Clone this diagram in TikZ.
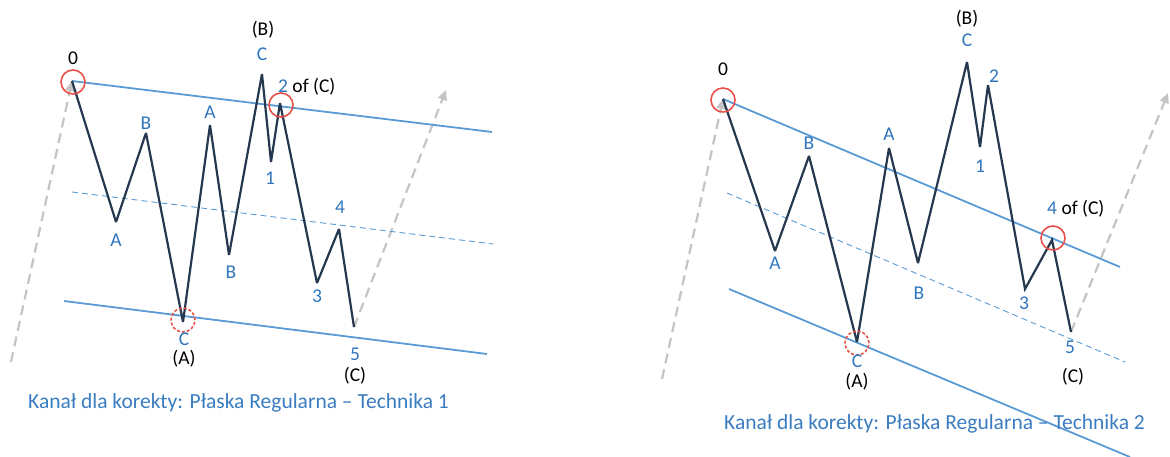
\documentclass[tikz,border=0pt]{standalone}
\usepackage{fontspec}
\setmainfont{Carlito}
\usetikzlibrary{arrows.meta}

\definecolor{wavenavy}{RGB}{37,56,80}
\definecolor{chanblue}{RGB}{91,155,213}
\definecolor{lblblue}{RGB}{46,117,190}
\definecolor{capblue}{RGB}{58,124,192}
\definecolor{ringred}{RGB}{232,80,74}
\definecolor{guidegray}{RGB}{196,196,196}

\tikzset{
  wave/.style={draw=wavenavy,line width=2.2pt,miter limit=3},
  chan/.style={draw=chanblue,line width=1.8pt},
  midline/.style={draw=chanblue,line width=0.9pt,dash pattern=on 6pt off 4pt},
  guide/.style={draw=guidegray,line width=2.2pt,dash pattern=on 10pt off 6pt,-{Triangle[length=10pt,width=9pt]}},
  ring/.style={draw=ringred,line width=1.6pt,circle,minimum size=24pt,inner sep=0pt},
  ringdash/.style={ring,dash pattern=on 3pt off 2pt},
  wlbl/.style={text=lblblue,font=\fontsize{19.5}{19.5}\selectfont,inner sep=0pt},
  blbl/.style={text=black,font=\fontsize{19.5}{19.5}\selectfont,inner sep=0pt},
  caption/.style={text=capblue,font=\fontsize{21.5}{21.5}\selectfont,inner sep=0pt,anchor=west},
}

\begin{document}
\begin{tikzpicture}[x=1pt,y=-1pt]
  \useasboundingbox (0,0) rectangle (1170,457);

  % left: Technika 1
  \coordinate (L0) at (72,81);
  \coordinate (La) at (116,222);
  \coordinate (Lb) at (146,133);
  \coordinate (Lc) at (183,322);
  \coordinate (LA) at (210,125);
  \coordinate (LB) at (229,255);
  \coordinate (LC) at (262,74);
  \coordinate (L1) at (271,162);
  \coordinate (L2) at (280,103);
  \coordinate (L3) at (317,283);
  \coordinate (L4) at (339,229);
  \coordinate (L5) at (354,327);
  \coordinate (Lgs) at (11,362);
  \coordinate (Lge) at (446,90);
  \coordinate (Lue) at (492,132);
  \coordinate (Lls) at (64,301);
  \coordinate (Lle) at (487,354);
  \coordinate (Lms) at (72,192);
  \coordinate (Lme) at (493,244);

  \draw[guide] (Lgs)--(L0);
  \draw[guide] (L5)--(Lge);
  \draw[chan] (L0)--(Lue);
  \draw[chan] (Lls)--(Lle);
  \draw[midline] (Lms)--(Lme);
  \draw[wave] (L0)--(La)--(Lb)--(Lc)--(LA)--(LB)--(LC)--(L1)--(L2)--(L3)--(L4)--(L5);
  \node[ring] (L0ring) at (73,82) {};
  \node[ring] (L2ring) at (281,105) {};
  \node[ringdash] (Lcring) at (183,320) {};

  \node[blbl] (L0lbl) at (73,58) {0};
  \node[wlbl] (Lalbl) at (116,240) {A};
  \node[wlbl] (Lblbl) at (146,123) {B};
  \node[wlbl] (Lclbl) at (184,339) {C};
  \node[blbl] (LAwave) at (184,359) {(A)};
  \node[wlbl] (LAlbl) at (210,112) {A};
  \node[wlbl] (LBlbl) at (231,272) {B};
  \node[wlbl] (LClbl) at (262,54) {C};
  \node[blbl] (LBwave) at (263,30) {(B)};
  \node[wlbl] (L1lbl) at (270,178) {1};
  \node[blbl,anchor=west] (L2lbl) at (278,87) {\textcolor{lblblue}{2} of (C)};
  \node[wlbl] (L3lbl) at (317,296) {3};
  \node[wlbl] (L4lbl) at (340,207) {4};
  \node[wlbl] (L5lbl) at (355,354) {5};
  \node[blbl] (LCwave) at (355,376) {(C)};
  \node[caption] (Lcap) at (28,403) {Kanał dla korekty: Płaska Regularna – Technika 1};

  % right: Technika 2
  \coordinate (R0) at (723,99);
  \coordinate (Ra) at (775,251);
  \coordinate (Rb) at (809,156);
  \coordinate (Rc) at (857,342);
  \coordinate (RA) at (889,148);
  \coordinate (RB) at (918,263);
  \coordinate (RC) at (967,62);
  \coordinate (R1) at (980,147);
  \coordinate (R2) at (988,85);
  \coordinate (R3) at (1025,289);
  \coordinate (R4) at (1052,240);
  \coordinate (R5) at (1071,332);
  \coordinate (Rgs) at (662,379);
  \coordinate (Rge) at (1168,93);
  \coordinate (Rue) at (1120,267);
  \coordinate (Rls) at (729,289);
  \coordinate (Rle) at (1130,457);
  \coordinate (Rms) at (727,193);
  \coordinate (Rme) at (1125,362);

  \draw[guide] (Rgs)--(R0);
  \draw[guide] (R5)--(Rge);
  \draw[chan] (R0)--(Rue);
  \draw[chan] (Rls)--(Rle);
  \draw[midline] (Rms)--(Rme);
  \draw[wave] (R0)--(Ra)--(Rb)--(Rc)--(RA)--(RB)--(RC)--(R1)--(R2)--(R3)--(R4)--(R5);
  \node[ring] (R0ring) at (723,100) {};
  \node[ring] (R4ring) at (1053,238) {};
  \node[ringdash] (Rcring) at (857,343) {};

  \node[blbl] (R0lbl) at (723,69) {0};
  \node[wlbl] (Ralbl) at (775,263) {A};
  \node[wlbl] (Rblbl) at (809,143) {B};
  \node[wlbl] (Rclbl) at (857,361) {C};
  \node[blbl] (RAwave) at (857,382) {(A)};
  \node[wlbl] (RAlbl) at (889,134) {A};
  \node[wlbl] (RBlbl) at (919,293) {B};
  \node[wlbl] (RClbl) at (967,40) {C};
  \node[blbl] (RBwave) at (967,19) {(B)};
  \node[wlbl] (R1lbl) at (980,166) {1};
  \node[wlbl] (R2lbl) at (994,76) {2};
  \node[wlbl] (R3lbl) at (1024,303) {3};
  \node[blbl,anchor=west] (R4lbl) at (1047,209) {\textcolor{lblblue}{4} of (C)};
  \node[wlbl] (R5lbl) at (1070,347) {5};
  \node[blbl] (RCwave) at (1073,377) {(C)};
  \node[caption] (Rcap) at (724,424) {Kanał dla korekty: Płaska Regularna – Technika 2};
\end{tikzpicture}
\end{document}
